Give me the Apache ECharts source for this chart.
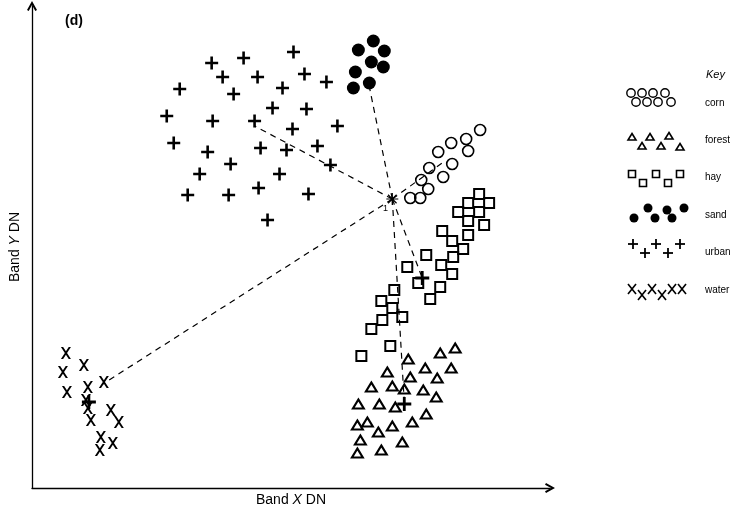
<!DOCTYPE html>
<html>
<head>
<meta charset="utf-8">
<script src="https://cdn.jsdelivr.net/npm/echarts@6/dist/echarts.min.js"></script>
<style>html,body{margin:0;padding:0;background:#fff}#c{width:736px;height:513px}</style>
</head>
<body>
<div id="c"></div>
<script>
// ---- data (Band X DN, Band Y DN) ----
const categories = ['corn', 'forest', 'hay', 'sand', 'urban', 'water'];
const corn = [[449,358],[435,349],[420,345],[437,337],[407,336],[421,324],[398,320],[412,311],[390,308],[397,299],[379,290],[389,290]];
const forest = [[424,140],[409,135],[377,129],[420,120],[356,116],[394,120],[379,111],[406,110],[340,101],[361,102],[373,99],[392,98],[405,91],[327,84],[348,84],[364,81],[395,74],[326,63],[336,66],[361,62],[381,66],[347,56],[329,48],[371,46],[350,38],[326,35]];
const hay = [[448,294],[437,285],[458,285],[427,276],[448,276],[437,267],[453,263],[411,257],[437,253],[421,247],[432,239],[395,233],[422,231],[410,223],[376,221],[421,214],[387,205],[409,201],[399,189],[363,198],[350,187],[361,180],[371,171],[351,168],[340,159],[359,142],[330,132]];
const sand = [[342,447],[327,438],[353,437],[340,426],[352,421],[324,416],[338,405],[322,400]];
const urban = [[262,436],[180,425],[212,430],[191,411],[226,411],[273,414],[295,406],[148,399],[202,394],[251,400],[135,372],[181,367],[223,367],[241,380],[275,379],[261,359],[306,362],[142,345],[176,336],[229,340],[255,338],[286,342],[199,324],[168,314],[248,314],[299,323],[156,293],[197,293],[227,300],[277,294],[236,268]];
const water = [[34,135],[52,123],[31,116],[56,101],[72,106],[35,96],[54,88],[56,80],[79,78],[59,68],[87,66],[69,51],[81,45],[68,38]];
const unknownPixel = [361,289];
const classMeans = [[337,406],[223,362],[71,104],[411,325],[391,210],[373,86]]; // sand, urban, water, corn, hay, forest
const meanMarks = [[57,86],[373,84],[391,210]];
const xRange = [0, 519];
const yRange = [0, 482];

const PLUS = 'path://M4,0H6V4H10V6H6V10H4V6H0V4H4Z';
const XS = 'path://M0,0H2.2L5,3.6L7.8,0H10L6.1,5L10,10H7.8L5,6.4L2.2,10H0L3.9,5Z';
const STAR = 'path://M4.5,0H5.5V3.8L8.2,1.1L8.9,1.8L6.2,4.5H10V5.5H6.2L8.9,8.2L8.2,8.9L5.5,6.2V10H4.5V6.2L1.8,8.9L1.1,8.2L3.8,5.5H0V4.5H3.8L1.1,1.8L1.8,1.1L4.5,3.8Z';
const ARROW = 'path://M0,9L5,0L10,9L8.3,10L5,4L1.7,10Z';
const FONT = '"Liberation Sans", Arial, sans-serif';

const hollow = (w) => ({color: 'rgba(0,0,0,0)', borderColor: '#000', borderWidth: w, opacity: 1});
const solid = {color: '#000', opacity: 1};

function sc(name, data, symbol, size, itemStyle) {
  return {type: 'scatter', name, data, symbol, symbolSize: size, itemStyle,
          emphasis: {disabled: true}, silent: true, z: 3};
}

// ---- key (legend) drawn with graphic primitives ----
const keyX = 705;
const keyRows = [103, 140, 177, 215, 252, 290];
const keyPatterns = {
  corn: [[631,-10],[642,-10],[653,-10],[665,-10],[636,-1],[647,-1],[658,-1],[671,-1]],
  forest: [[632,-3],[650,-3],[669,-4],[642,6],[661,6],[680,7]],
  hay: [[632,-3],[656,-3],[680,-3],[643,6],[668,6]],
  sand: [[634,3],[648,-7],[655,3],[667,-5],[672,3],[684,-7]],
  urban: [[633,-8],[645,1],[656,-8],[668,1],[680,-8]],
  water: [[632,-1],[642,5],[652,-1],[662,5],[672,-1],[682,-1]]
};
function keySymbol(cat, x, y) {
  const s = {stroke: '#000', lineWidth: 1.4, fill: 'none'};
  switch (cat) {
    case 'corn': return [{type: 'circle', shape: {cx: x, cy: y, r: 4.2}, style: s}];
    case 'forest': return [{type: 'polygon', shape: {points: [[x, y-3.5],[x+4, y+3],[x-4, y+3]]}, style: {stroke:'#000', lineWidth:1.6, fill:'none'}}];
    case 'hay': return [{type: 'rect', shape: {x: x-3.5, y: y-3.5, width: 7, height: 7}, style: {stroke:'#000', lineWidth:1.6, fill:'none'}}];
    case 'sand': return [{type: 'circle', shape: {cx: x, cy: y, r: 4.5}, style: {fill: '#000'}}];
    case 'urban': return [
      {type: 'line', shape: {x1: x-5, y1: y, x2: x+5, y2: y}, style: {stroke:'#000', lineWidth:1.8}},
      {type: 'line', shape: {x1: x, y1: y-5, x2: x, y2: y+5}, style: {stroke:'#000', lineWidth:1.8}}];
    case 'water': return [
      {type: 'line', shape: {x1: x-4, y1: y-5, x2: x+4, y2: y+5}, style: {stroke:'#000', lineWidth:1.6}},
      {type: 'line', shape: {x1: x+4, y1: y-5, x2: x-4, y2: y+5}, style: {stroke:'#000', lineWidth:1.6}}];
  }
}
const graphics = [
  {type: 'text', left: 65, top: 14, style: {text: '(d)', font: 'bold 14px ' + FONT, fill: '#000'}},
  {type: 'text', x: 706, y: 69, style: {text: 'Key', font: 'italic 11px ' + FONT, fill: '#000'}},
  {type: 'text', x: 383, y: 204, style: {text: '1', font: '9px ' + FONT, fill: '#000'}}
];
categories.forEach((cat, i) => {
  const cy = keyRows[i];
  keyPatterns[cat].forEach(([x, dy]) => graphics.push(...keySymbol(cat, x, cy + dy)));
  graphics.push({type: 'text', x: keyX, y: cy - 5, style: {text: cat, font: '10px ' + FONT, fill: '#000'}});
});

const axisCommon = {
  axisLine: {show: true, lineStyle: {color: '#000', width: 1.3}, symbol: ['none', ARROW], symbolSize: [10, 10]},
  axisTick: {show: false}, axisLabel: {show: false}, splitLine: {show: false},
  nameLocation: 'middle'
};
const nameStyle = {color: '#000', fontSize: 14, fontFamily: FONT, rich: {i: {fontStyle: 'italic', fontSize: 14, fontFamily: FONT, color: '#000'}}};

const chart = echarts.init(document.getElementById('c'));
chart.setOption({
  animation: false,
  backgroundColor: '#fff',
  grid: {left: 31, right: 186, top: 6, bottom: 25},
  xAxis: Object.assign({type: 'value', min: xRange[0], max: xRange[1],
    name: 'Band {i|X} DN', nameGap: 5, nameTextStyle: nameStyle}, axisCommon),
  yAxis: Object.assign({type: 'value', min: yRange[0], max: yRange[1],
    name: 'Band {i|Y} DN', nameGap: 10, nameTextStyle: nameStyle}, axisCommon),
  graphic: graphics,
  series: [
    {type: 'lines', coordinateSystem: 'cartesian2d', silent: true, z: 2,
     data: classMeans.map(m => ({coords: [unknownPixel, m]})),
     lineStyle: {color: '#000', width: 1.2, type: [6, 5], opacity: 1}},
    sc('corn', corn, 'circle', 11, hollow(1.6)),
    sc('forest', forest, 'triangle', [11, 9], hollow(2)),
    sc('hay', hay, 'rect', 10, hollow(2)),
    sc('sand', sand, 'circle', 13, solid),
    sc('urban', urban, PLUS, 13, solid),
    sc('water', water, XS, [10, 12], solid),
    sc('means', meanMarks, PLUS, 14, solid),
    sc('unknown', [unknownPixel], STAR, 12, solid)
  ]
});
</script>
</body>
</html>
